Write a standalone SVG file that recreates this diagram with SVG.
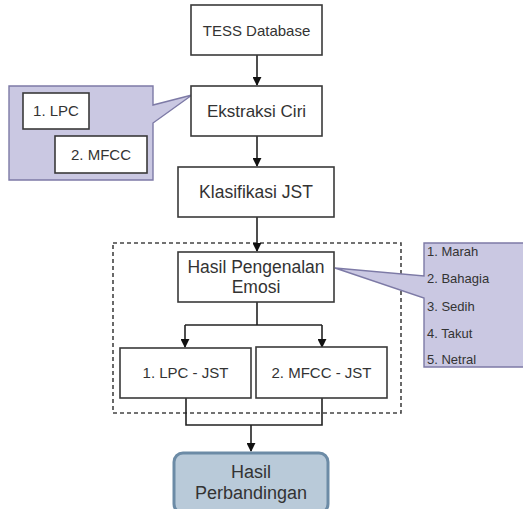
<svg xmlns="http://www.w3.org/2000/svg" width="523" height="509" viewBox="0 0 523 509">
<defs>
<style>
.box{fill:#fff;stroke:#3a3a3a;stroke-width:1.6}
.t{font-family:"Liberation Sans",Arial,sans-serif;fill:#333;text-anchor:middle}
.tl{font-family:"Liberation Sans",Arial,sans-serif;fill:#333;font-size:13px}
.call{fill:#cac8e2;stroke:#7d7aa6;stroke-width:1.4}
.ln{fill:none;stroke:#222;stroke-width:1.6}
</style>
<marker id="ah" viewBox="0 0 10 10" refX="9" refY="5" markerWidth="9" markerHeight="9" orient="auto" markerUnits="userSpaceOnUse">
<path d="M0,0 L10,5 L0,10 z" fill="#111"/>
</marker>
</defs>
<rect width="523" height="509" fill="#fff"/>

<g id="group-dashed">
<rect x="113" y="243" width="288" height="170" fill="none" stroke="#444" stroke-width="1.6" stroke-dasharray="4,3"/>
</g>

<g id="callout-left">
<path class="call" d="M9,86 H153 V105 L192,95 L153,123 V180 H9 Z"/>
<rect class="box" x="23" y="93" width="66" height="36"/>
<text class="t" x="56" y="116" font-size="15">1. LPC</text>
<rect class="box" x="55" y="136" width="92" height="37"/>
<text class="t" x="101" y="160" font-size="15">2. MFCC</text>
</g>

<g id="callout-right">
<path class="call" d="M424,243 H530 V367 H424 V298 L335,268 L424,276 Z"/>
<text class="tl" x="427" y="256">1. Marah</text>
<text class="tl" x="427" y="283">2. Bahagia</text>
<text class="tl" x="427" y="311">3. Sedih</text>
<text class="tl" x="427" y="338">4. Takut</text>
<text class="tl" x="427" y="364">5. Netral</text>
</g>

<g id="connectors">
<path class="ln" d="M257,55 V85" marker-end="url(#ah)"/>
<path class="ln" d="M257,136 V166" marker-end="url(#ah)"/>
<path class="ln" d="M257,217 V251" marker-end="url(#ah)"/>
<path class="ln" d="M257,302 V325"/>
<path class="ln" d="M185,325 H322"/>
<path class="ln" d="M185,325 V347" marker-end="url(#ah)"/>
<path class="ln" d="M322,325 V347" marker-end="url(#ah)"/>
<path class="ln" d="M186,398 V425 H322 V398"/>
<path class="ln" d="M251,425 V451" marker-end="url(#ah)"/>
</g>

<g id="tess">
<rect class="box" x="191" y="5" width="131" height="50"/>
<text class="t" x="256.5" y="36" font-size="15">TESS Database</text>
</g>
<g id="ekstraksi">
<rect class="box" x="191" y="86" width="131" height="50"/>
<text class="t" x="256.5" y="117" font-size="17">Ekstraksi Ciri</text>
</g>
<g id="klasifikasi">
<rect class="box" x="178" y="167" width="156" height="50"/>
<text class="t" x="256" y="198" font-size="17.5">Klasifikasi JST</text>
</g>
<g id="hasil-pengenalan">
<rect class="box" x="178" y="252" width="156" height="50"/>
<text class="t" x="256" y="273" font-size="17.5">Hasil Pengenalan</text>
<text class="t" x="256" y="293" font-size="17.5">Emosi</text>
</g>
<g id="lpc-jst">
<rect class="box" x="120" y="348" width="131" height="50"/>
<text class="t" x="185.5" y="378" font-size="15">1. LPC - JST</text>
</g>
<g id="mfcc-jst">
<rect class="box" x="256" y="347" width="131" height="51"/>
<text class="t" x="321.5" y="378" font-size="15">2. MFCC - JST</text>
</g>
<g id="hasil-perbandingan">
<rect x="174" y="453" width="154" height="60" rx="9" fill="#b9cad9" stroke="#6c8ba6" stroke-width="3"/>
<text class="t" x="251" y="478" font-size="18">Hasil</text>
<text class="t" x="251" y="499" font-size="18">Perbandingan</text>
</g>
</svg>
